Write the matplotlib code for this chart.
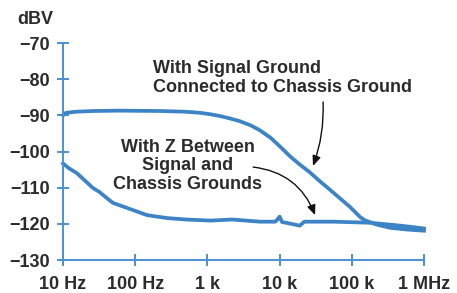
import matplotlib
matplotlib.use("Agg")
import matplotlib.pyplot as plt

# --- data ---
# signal ground connected to chassis ground
f_conn = [10, 11, 15, 26, 60, 220, 500, 790, 1100, 1500, 2000, 2800, 4000, 5300,
          7500, 10100, 13900, 19000, 26000, 36000, 50000, 69000, 94000, 130000,
          151000, 220000, 340000, 600000, 1e6]
db_conn = [-90.0, -89.3, -89.0, -88.8, -88.7, -88.8, -89.0, -89.3, -89.7, -90.2,
           -90.8, -91.6, -92.8, -94.1, -96.2, -98.6, -101.3, -103.6, -105.7, -108.2,
           -110.6, -113.0, -115.3, -118.1, -119.0, -120.2, -121.1, -121.6, -121.9]

# impedance between signal and chassis grounds
f_z = [10, 12, 15.6, 20, 26, 32, 40, 49, 77, 146, 275, 500, 1100, 2200, 5300, 8700,
       9500, 10000, 10800, 13000, 19000, 22000, 55000, 180000, 470000, 700000, 1e6]
db_z = [-103.3, -104.6, -106.0, -108.0, -110.1, -111.2, -112.8, -114.2, -115.6,
        -117.6, -118.4, -118.8, -119.1, -118.8, -119.4, -119.4, -118.6, -118.0,
        -119.5, -119.8, -120.5, -119.4, -119.4, -119.7, -120.5, -120.9, -121.3]

x_ticks = [10, 100, 1e3, 1e4, 1e5, 1e6]
x_labels = ["10 Hz", "100 Hz", "1 k", "10 k", "100 k", "1 MHz"]
y_ticks = [-130, -120, -110, -100, -90, -80, -70]
y_labels = ["\u2212130", "\u2212120", "\u2212110", "\u2212100", "\u221290", "\u221280", "\u221270"]

curve_col = "#3d84c6"
axis_col = "#4a92d4"
text_col = "#2b2b2b"

plt.rcParams["font.family"] = ["Liberation Sans", "DejaVu Sans"]
plt.rcParams["font.weight"] = "bold"

fig = plt.figure(figsize=(4.57, 2.93), dpi=100)
ax = fig.add_axes([0.1379, 0.1126, 0.7899, 0.7406])

ax.plot(f_conn, db_conn, color=curve_col, lw=2.7, solid_joinstyle="round", clip_on=False)
ax.plot(f_z, db_z, color=curve_col, lw=2.7, solid_joinstyle="round", clip_on=False)

ax.set_xscale("log")
ax.set_xlim(10, 1e6)
ax.set_ylim(-130, -70)
ax.set_xticks(x_ticks)
ax.set_xticklabels(x_labels)
ax.set_yticks(y_ticks)
ax.set_yticklabels(y_labels)
ax.minorticks_off()

for s in ["top", "right"]:
    ax.spines[s].set_visible(False)
for s in ["left", "bottom"]:
    ax.spines[s].set_color(axis_col)
    ax.spines[s].set_linewidth(1.4)

ax.tick_params(axis="both", direction="inout", length=9, width=1.4, color=axis_col,
               labelsize=13, labelcolor=text_col)
ax.tick_params(axis="x", pad=7)
ax.tick_params(axis="y", pad=5)
for lab in ax.get_xticklabels() + ax.get_yticklabels():
    lab.set_fontweight("bold")

fig.text(0.077, 0.935, "dBV", fontsize=13, fontweight="bold", color=text_col,
         ha="center", va="center")

# annotations
ax.text(177, -79.7, "With Signal Ground\nConnected to Chassis Ground", fontsize=13,
        fontweight="bold", color=text_col, ha="left", va="center", linespacing=1.15)
ax.annotate("", xy=(29000, -104.0), xytext=(40000, -86.3),
            arrowprops=dict(arrowstyle="-|>,head_length=0.6,head_width=0.25",
                            color="#111111", lw=1.0, shrinkA=0, shrinkB=0,
                            connectionstyle="arc3,rad=-0.1"))

ax.text(537, -104.0, "With Z Between\nSignal and\nChassis Grounds", fontsize=13,
        fontweight="bold", color=text_col, ha="center", va="center",
        multialignment="center", linespacing=1.15)
ax.annotate("", xy=(31000, -117.6), xytext=(4300, -104.3),
            arrowprops=dict(arrowstyle="-|>,head_length=0.6,head_width=0.25",
                            color="#111111", lw=1.0, shrinkA=0, shrinkB=0,
                            connectionstyle="arc3,rad=-0.3"))

fig.savefig("out.png", dpi=100, facecolor="white")
